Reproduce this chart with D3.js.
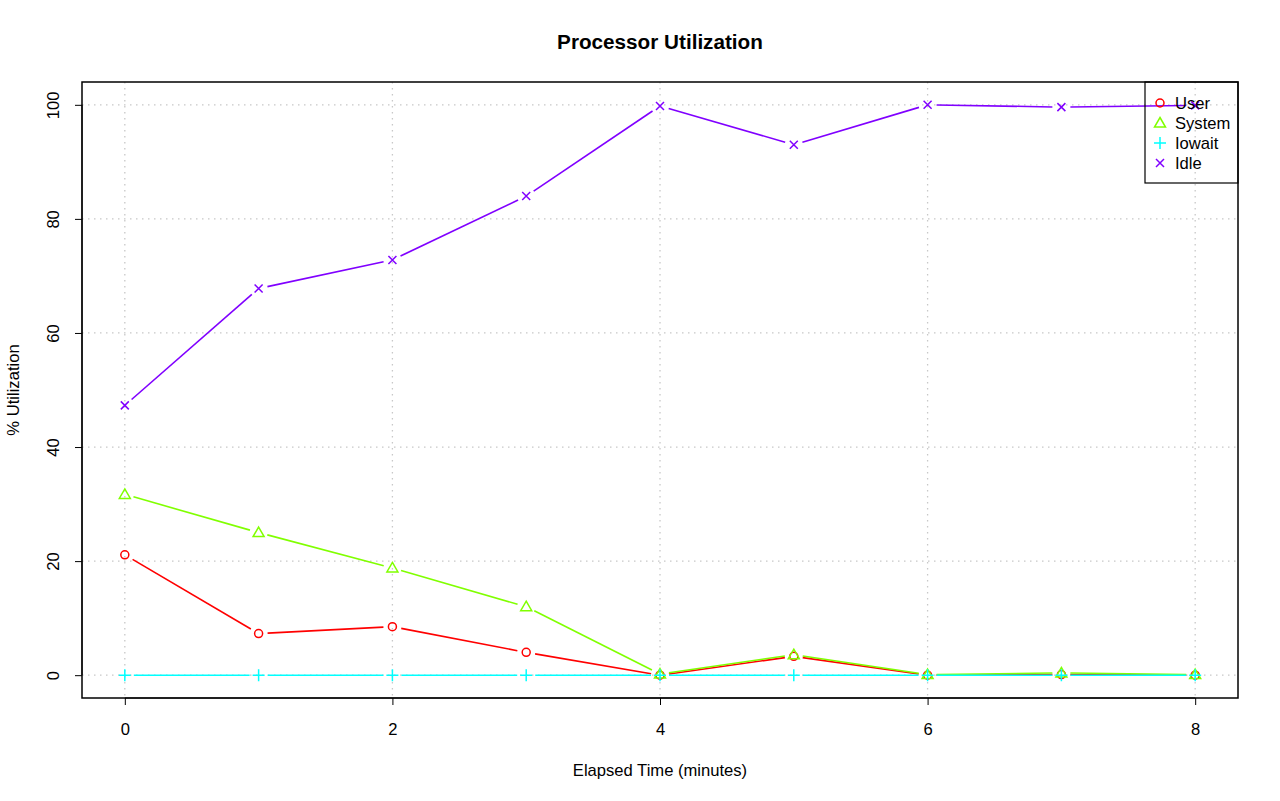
<!DOCTYPE html>
<html><head><meta charset="utf-8">
<script src="https://cdn.jsdelivr.net/npm/d3@7"></script>
<style>body{margin:0;background:#fff}svg{display:block;font-family:"Liberation Sans",Arial,sans-serif}</style>
</head><body>
<svg id="c" width="1280" height="801"></svg>
<script>
const minutes = [0,1,2,3,4,5,6,7,8];
const user   = [21.1, 7.3, 8.5, 4.0, 0.0, 3.3, 0.0, 0.1, 0.0];
const system = [31.7, 25.0, 18.8, 12.0, 0.2, 3.6, 0.1, 0.4, 0.1];
const iowait = [0, 0, 0, 0, 0, 0, 0, 0, 0];
const idle   = [47.3, 67.8, 72.8, 84.0, 99.8, 93.0, 100.0, 99.6, 99.9];
const seriesNames = ["User","System","Iowait","Idle"];
const colors = ["#ff0000","#80ff00","#00ffff","#8000ff"];
const xTicks = [0,2,4,6,8];
const yTicks = [0,20,40,60,80,100];

const FS = 16.6;
const svg = d3.select("#c");
const L=82, R=1238, T=82, B=698;
const x = d3.scaleLinear().domain([-0.32, 8.32]).range([L, R]);
const y = d3.scaleLinear().domain([-4, 104]).range([B, T]);

// grid
const g = svg.append("g");
g.selectAll(".gx").data(xTicks).enter().append("line")
  .attr("x1",d=>x(d)).attr("x2",d=>x(d)).attr("y1",T).attr("y2",B)
  .attr("stroke","#c8c8c8").attr("stroke-width",1.3).attr("stroke-dasharray","1.5,4.5");
g.selectAll(".gy").data(yTicks).enter().append("line")
  .attr("y1",d=>y(d)).attr("y2",d=>y(d)).attr("x1",L).attr("x2",R)
  .attr("stroke","#c8c8c8").attr("stroke-width",1.3).attr("stroke-dasharray","1.5,4.5");

// axes
const xa = svg.append("g").attr("transform",`translate(0,${B})`)
  .call(d3.axisBottom(x).tickValues(xTicks).tickSize(7).tickPadding(18).tickSizeOuter(0));
xa.select(".domain").attr("d",`M${x(0)},0H${x(8)}`);
const ya = svg.append("g").attr("transform",`translate(${L},0)`)
  .call(d3.axisLeft(y).tickValues(yTicks).tickSize(7).tickPadding(0).tickSizeOuter(0));
ya.select(".domain").attr("d",`M0,${y(0)}V${y(100)}`);
[xa,ya].forEach(a=>{a.attr("font-size",FS).attr("font-family","Liberation Sans, Arial, sans-serif");a.selectAll("text").attr("fill","#000");a.selectAll("line,path").attr("stroke","#000");});
ya.selectAll(".tick text").attr("transform","rotate(-90)").attr("text-anchor","middle").attr("x",0).attr("y",-23).attr("dy","0");

// box
svg.append("rect").attr("x",L).attr("y",T).attr("width",R-L).attr("height",B-T)
  .attr("fill","none").attr("stroke","#000").attr("stroke-width",1.5);

// titles
svg.append("text").attr("x",660).attr("y",49).attr("text-anchor","middle")
  .attr("font-size",20.7).attr("font-weight","bold").text("Processor Utilization");
svg.append("text").attr("x",660).attr("y",776).attr("text-anchor","middle")
  .attr("font-size",FS).text("Elapsed Time (minutes)");
svg.append("text").attr("transform","translate(19,390) rotate(-90)").attr("text-anchor","middle")
  .attr("font-size",FS).text("% Utilization");

function symbol(sel, i, cx, cy){
  const c = colors[i];
  if(i===0) sel.append("circle").attr("cx",cx).attr("cy",cy).attr("r",4).attr("fill","none").attr("stroke",c).attr("stroke-width",1.5);
  else if(i===1) sel.append("path").attr("d",`M${cx},${cy-5.5}L${cx+5.5},${cy+4}L${cx-5.5},${cy+4}Z`).attr("fill","none").attr("stroke",c).attr("stroke-width",1.5);
  else if(i===2) sel.append("path").attr("d",`M${cx-6},${cy}H${cx+6}M${cx},${cy-6}V${cy+6}`).attr("stroke",c).attr("stroke-width",1.5);
  else sel.append("path").attr("d",`M${cx-4},${cy-4}L${cx+4},${cy+4}M${cx-4},${cy+4}L${cx+4},${cy-4}`).attr("stroke",c).attr("stroke-width",1.5);
}

const data = [user, system, iowait, idle];
const gap = 9;
data.forEach((vals,i)=>{
  const gs = svg.append("g");
  const pts = minutes.map((m,k)=>[x(m), y(vals[k])]);
  for(let k=0;k<pts.length-1;k++){
    const [x1,y1]=pts[k],[x2,y2]=pts[k+1];
    const len=Math.hypot(x2-x1,y2-y1);
    if(len<=2*gap) continue;
    const ux=(x2-x1)/len, uy=(y2-y1)/len;
    gs.append("line").attr("x1",x1+ux*gap).attr("y1",y1+uy*gap).attr("x2",x2-ux*gap).attr("y2",y2-uy*gap)
      .attr("stroke",colors[i]).attr("stroke-width",1.6);
  }
  pts.forEach(p=>symbol(gs,i,p[0],p[1]));
});

// legend
const lg = svg.append("g");
lg.append("rect").attr("x",1145).attr("y",T).attr("width",R-1145).attr("height",101)
  .attr("fill","none").attr("stroke","#000").attr("stroke-width",1.2);
seriesNames.forEach((n,i)=>{
  const cy = 103 + i*20;
  symbol(lg,i,1160,cy);
  lg.append("text").attr("x",1175).attr("y",cy+6).attr("font-size",FS).text(n);
});
</script>
</body></html>
